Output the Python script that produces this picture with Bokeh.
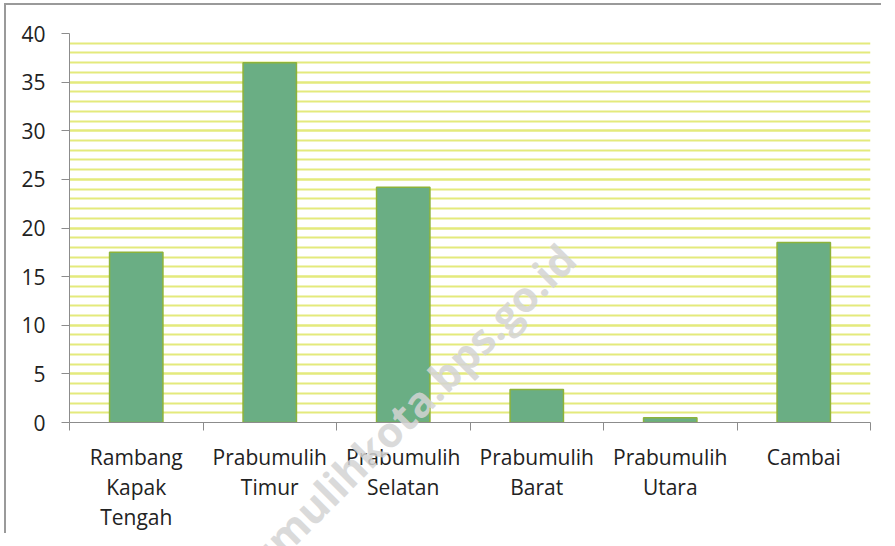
from bokeh.plotting import figure
from bokeh.models import Range1d, FixedTicker, Div, ColumnDataSource
from bokeh.embed import file_html
from bokeh.resources import INLINE

categories = ["Rambang\nKapak\nTengah", "Prabumulih\nTimur", "Prabumulih\nSelatan",
              "Prabumulih\nBarat", "Prabumulih\nUtara", "Cambai"]
values = [17.5, 37.0, 24.2, 3.4, 0.5, 18.5]
y_ticks = [0, 5, 10, 15, 20, 25, 30, 35, 40]
y_minor = list(range(0, 41))
watermark = "prabumulihkota.bps.go.id"

centers = [i + 0.5 for i in range(len(categories))]
bounds = list(range(len(categories) + 1))

src = ColumnDataSource(dict(x=centers, top=values))

p = figure(width=877, height=530, output_backend="svg", toolbar_location=None,
           x_range=Range1d(0, len(categories)), y_range=Range1d(0, 40),
           min_border_left=63, min_border_right=13, min_border_top=28, min_border_bottom=113)
p.outline_line_color = None
p.styles = {"border-top": "2px solid #9a9a9a", "border-left": "2px solid #9a9a9a",
            "margin-left": "4px", "margin-top": "3px"}

p.vbar(x="x", top="top", width=0.4, bottom=0, source=src,
       fill_color="#6aae84", line_color="#8db33a", line_width=1.5)

grid_col = "#e4ea7c"
p.ygrid.ticker = FixedTicker(ticks=y_ticks, minor_ticks=y_minor)
p.ygrid.grid_line_color = grid_col
p.ygrid.grid_line_width = 2
p.ygrid.minor_grid_line_color = grid_col
p.ygrid.minor_grid_line_width = 2
p.xgrid.grid_line_color = None

ya = p.yaxis[0]
ya.ticker = FixedTicker(ticks=y_ticks)
ya.axis_line_color = "#8c8c8c"
ya.major_tick_line_color = "#8c8c8c"
ya.major_tick_out = 8
ya.major_tick_in = 0
ya.minor_tick_line_color = None
ya.major_label_standoff = 16
ya.major_label_text_font = "Open Sans"
ya.major_label_text_font_size = "21px"
ya.major_label_text_color = "#222222"

xa = p.xaxis[0]
xa.ticker = FixedTicker(ticks=centers, minor_ticks=bounds)
xa.major_label_overrides = {c: lab for c, lab in zip(centers, categories)}
xa.axis_line_color = "#8c8c8c"
xa.major_tick_line_color = None
xa.major_tick_out = 0
xa.minor_tick_line_color = "#8c8c8c"
xa.minor_tick_out = 8
xa.minor_tick_in = 0
xa.major_label_standoff = 12
xa.major_label_text_font = "Open Sans"
xa.major_label_text_font_size = "21px"
xa.major_label_text_color = "#222222"
xa.major_label_text_line_height = 1.08

wm = Div(text=watermark, styles={
    "position": "absolute", "left": "370px", "top": "438px",
    "transform": "translate(-50%, -50%) rotate(-45deg)",
    "font-family": "Open Sans", "font-weight": "bold", "font-size": "42px",
    "color": "rgba(212,212,212,0.85)", "white-space": "nowrap",
    "pointer-events": "none", "z-index": "10"})
p.elements = [wm]

open("out.html", "w").write(file_html(p, INLINE))
